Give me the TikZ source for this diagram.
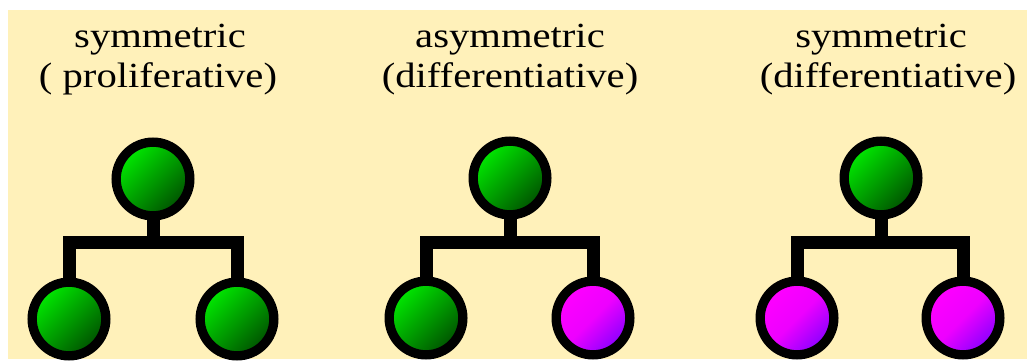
\documentclass[tikz,border=0pt]{standalone}
\usepackage{fontspec}
\setmainfont{Liberation Serif}

\definecolor{paper}{RGB}{255,241,186}
\definecolor{lightgreen}{RGB}{0,235,0}
\definecolor{darkgreen}{RGB}{0,80,0}
\definecolor{lightpink}{RGB}{255,0,255}
\definecolor{darkpink}{RGB}{135,0,255}

\begin{document}
\begin{tikzpicture}[x=0.75pt, y=-0.75pt,
        cell/.style = {circle, draw=black, line width=7pt, minimum size=55.25pt, inner sep=0pt, shading=axis, shading angle=45},
        green cell/.style = {cell, top color=lightgreen, bottom color=darkgreen, shading angle=45},
        pink cell/.style = {cell, top color=lightpink, bottom color=darkpink, middle color=lightpink!85!darkpink, shading angle=45},
        link/.style = {line width=9.75pt, line join=miter, shorten <=-2pt, shorten >=-2pt},
        title/.style = {font=\fontsize{26.5}{30}\selectfont, inner sep=0pt, anchor=base, xscale=1.15, transform shape}
    ]

    % Background
    \useasboundingbox (0,0) rectangle (1027,363);
    \fill[white] (0,0) rectangle (1027,363);
    \fill[paper] (8,10) rectangle (1027,359);

    % Titles
    \node (title1a) [title] at (160,48) {symmetric};
    \node (title1b) [title] at (158,88) {( proliferative)};
    \node (title2a) [title] at (510,48) {asymmetric};
    \node (title2b) [title] at (510,88) {(differentiative)};
    \node (title3a) [title] at (881,48) {symmetric};
    \node (title3b) [title] at (888,88) {(differentiative)};

    % Cells
    \node (mother1) [green cell] at (153,179) {};
    \node (left1) [green cell] at (69,319) {};
    \node (right1) [green cell] at (237,319) {};
    \coordinate (split1) at (153,243);

    \node (mother2) [green cell] at (510,178) {};
    \node (left2) [green cell] at (426,318) {};
    \node (right2) [pink cell] at (593,318) {};
    \coordinate (split2) at (510,243);

    \node (mother3) [green cell] at (881,178) {};
    \node (left3) [pink cell] at (797,318) {};
    \node (right3) [pink cell] at (963,318) {};
    \coordinate (split3) at (881,243);

    % Links
    \draw[link] (mother1.south) -- (split1);
    \draw[link] (left1.north) |- (split1) -| (right1.north);
    \draw[link] (mother2.south) -- (split2);
    \draw[link] (left2.north) |- (split2) -| (right2.north);
    \draw[link] (mother3.south) -- (split3);
    \draw[link] (left3.north) |- (split3) -| (right3.north);

\end{tikzpicture}
\end{document}
